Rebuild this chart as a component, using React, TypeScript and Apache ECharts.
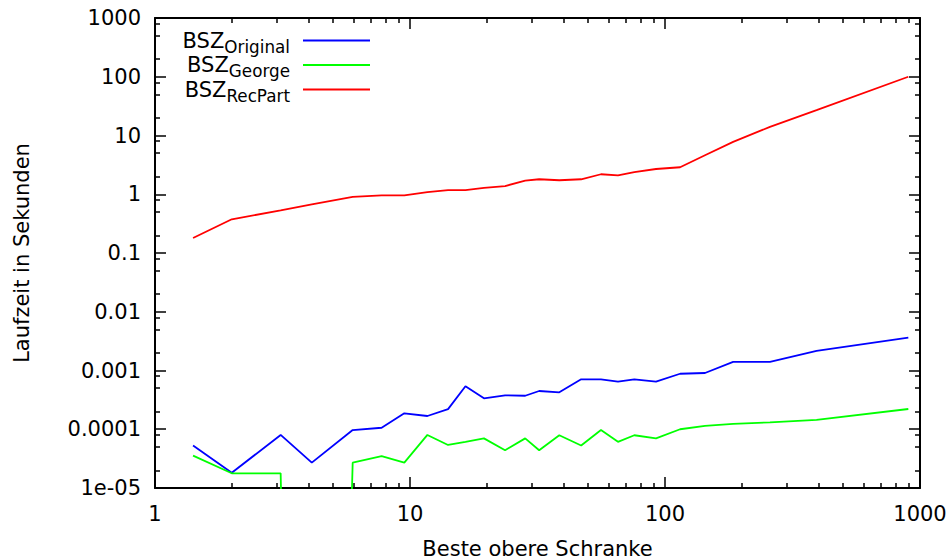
import React, { useEffect, useRef } from 'react';
import * as echarts from 'echarts';

// ---- data ----
const X_VALUES = [1.41, 2, 3.11, 4.12, 5.96, 7.74, 9.5, 11.7, 14.1, 16.5, 19.5, 23.6, 28.3, 32.1, 38.5, 46.9, 56.1, 65.4, 75.8, 92.2, 114.6, 143.5, 185, 258, 393, 900];
const BSZ_ORIGINAL = [5.3e-5, 1.82e-5, 8.0e-5, 2.7e-5, 9.7e-5, 1.06e-4, 1.87e-4, 1.68e-4, 2.2e-4, 5.4e-4, 3.36e-4, 3.78e-4, 3.72e-4, 4.48e-4, 4.25e-4, 7.08e-4, 7.08e-4, 6.45e-4, 7.08e-4, 6.45e-4, 8.8e-4, 9.06e-4, 1.4e-3, 1.4e-3, 2.15e-3, 3.62e-3];
const BSZ_GEORGE = [3.55e-5, 1.78e-5, 1.78e-5, 0, 2.7e-5, 3.5e-5, 2.7e-5, 8.0e-5, 5.4e-5, 6.1e-5, 7.0e-5, 4.4e-5, 7.0e-5, 4.4e-5, 7.9e-5, 5.3e-5, 9.7e-5, 6.1e-5, 7.9e-5, 7.0e-5, 1.0e-4, 1.14e-4, 1.23e-4, 1.31e-4, 1.44e-4, 2.21e-4];
const BSZ_RECPART = [0.18, 0.375, 0.53, 0.67, 0.9, 0.96, 0.955, 1.09, 1.18, 1.18, 1.28, 1.38, 1.7, 1.8, 1.73, 1.8, 2.19, 2.1, 2.39, 2.69, 2.88, 4.6, 7.8, 14, 27, 100];

const SERIES_SUBSCRIPTS = ['Original', 'George', 'RecPart'];
const SERIES_COLORS = ['#0000ff', '#00ff00', '#ff0000'];

const X_TICK_LABELS = ['1', '10', '100', '1000'];
const Y_TICK_LABELS = ['1e-05', '0.0001', '0.001', '0.01', '0.1', '1', '10', '100', '1000'];
const X_MINOR_TICKS = [2, 3, 4, 5, 6, 7, 8, 9, 20, 30, 40, 50, 60, 70, 80, 90, 200, 300, 400, 500, 600, 700, 800, 900];
const Y_MINOR_MULTIPLIERS = [2, 5, 8];
const Y_DECADES = [1e-5, 1e-4, 1e-3, 1e-2, 1e-1, 1, 10, 100];

const FONT = 'DejaVu Sans';
const FLOOR = 1e-30; // a zero value lies below the log axis

export default function App() {
  const ref = useRef<HTMLDivElement>(null);

  useEffect(() => {
    if (!ref.current) return;
    const chart = echarts.init(ref.current, null, { renderer: 'svg' });

    const yMinor: number[] = [];
    Y_DECADES.forEach((d) => Y_MINOR_MULTIPLIERS.forEach((m) => yMinor.push(parseFloat((m * d).toPrecision(6)))));

    const tickLine = { color: '#000', width: 1.5 };
    const axisLineStyle = { color: '#000', width: 2 };
    const labelStyle = { color: '#000', fontSize: 21, fontFamily: FONT };

    const baseX: any = { type: 'log', logBase: 10, min: 1, max: 1000, gridIndex: 0, splitNumber: 3, splitLine: { show: false } };
    const baseY: any = { type: 'log', logBase: 10, min: 1e-5, max: 1000, gridIndex: 0, splitNumber: 8, splitLine: { show: false } };

    const seriesData = [BSZ_ORIGINAL, BSZ_GEORGE, BSZ_RECPART];

    const legendY = [40.5, 65, 89.5];

    const option: any = {
      animation: false,
      backgroundColor: '#ffffff',
      grid: { left: 155, right: 32, top: 18, bottom: 72, containLabel: false, outerBoundsMode: 'none' },
      xAxis: [
        {
          ...baseX,
          position: 'bottom',
          axisLine: { show: true, lineStyle: axisLineStyle },
          axisTick: { show: true, inside: true, length: 11, lineStyle: tickLine },
          axisLabel: {
            show: true,
            margin: 15,
            ...labelStyle,
            formatter: (v: number) => X_TICK_LABELS[Math.round(Math.log10(v))],
          },
          name: 'Beste obere Schranke',
          nameLocation: 'middle',
          nameGap: 50,
          nameTextStyle: { ...labelStyle, lineHeight: 21 },
        },
        {
          ...baseX,
          position: 'bottom',
          axisLine: { show: false },
          axisTick: { show: true, inside: true, length: 5, lineStyle: tickLine, customValues: X_MINOR_TICKS },
          axisLabel: { show: false },
        },
        {
          ...baseX,
          position: 'top',
          axisLine: { show: true, lineStyle: axisLineStyle },
          axisTick: { show: true, inside: true, length: 11, lineStyle: tickLine },
          axisLabel: { show: false },
        },
        {
          ...baseX,
          position: 'top',
          axisLine: { show: false },
          axisTick: { show: true, inside: true, length: 5, lineStyle: tickLine, customValues: X_MINOR_TICKS },
          axisLabel: { show: false },
        },
      ],
      yAxis: [
        {
          ...baseY,
          position: 'left',
          axisLine: { show: true, lineStyle: axisLineStyle },
          axisTick: { show: true, inside: true, length: 11, lineStyle: tickLine },
          axisLabel: {
            show: true,
            margin: 14,
            ...labelStyle,
            formatter: (v: number) => Y_TICK_LABELS[Math.round(Math.log10(v)) + 5],
          },
          name: 'Laufzeit in Sekunden',
          nameLocation: 'middle',
          nameGap: 123,
          nameRotate: 90,
          nameTextStyle: { ...labelStyle },
        },
        {
          ...baseY,
          position: 'left',
          axisLine: { show: false },
          axisTick: { show: true, inside: true, length: 5, lineStyle: tickLine, customValues: yMinor },
          axisLabel: { show: false },
        },
        {
          ...baseY,
          position: 'right',
          axisLine: { show: true, lineStyle: axisLineStyle },
          axisTick: { show: true, inside: true, length: 11, lineStyle: tickLine },
          axisLabel: { show: false },
        },
        {
          ...baseY,
          position: 'right',
          axisLine: { show: false },
          axisTick: { show: true, inside: true, length: 5, lineStyle: tickLine, customValues: yMinor },
          axisLabel: { show: false },
        },
      ],
      series: seriesData.map((vals, i) => ({
        type: 'line',
        name: 'BSZ ' + SERIES_SUBSCRIPTS[i],
        xAxisIndex: 0,
        yAxisIndex: 0,
        data: X_VALUES.map((x, j) => [x, vals[j] > 0 ? vals[j] : FLOOR]),
        symbol: 'none',
        showSymbol: false,
        clip: true,
        silent: true,
        lineStyle: { color: SERIES_COLORS[i], width: 1.8 },
        itemStyle: { color: SERIES_COLORS[i] },
      })),
      graphic: SERIES_SUBSCRIPTS.flatMap((sub, i) => [
        {
          type: 'text',
          x: 290,
          y: legendY[i],
          silent: true,
          style: {
            text: `{b|BSZ}{s|${sub}}`,
            align: 'right',
            verticalAlign: 'middle',
            rich: {
              b: { fontSize: 21, fontFamily: FONT, fill: '#000' },
              s: { fontSize: 16.8, fontFamily: FONT, fill: '#000', padding: [12, 0, 0, 0] },
            },
          },
        },
        {
          type: 'line',
          silent: true,
          shape: { x1: 303, y1: legendY[i], x2: 370, y2: legendY[i] },
          style: { stroke: SERIES_COLORS[i], lineWidth: 2 },
        },
      ]),
    };

    chart.setOption(option);
    return () => chart.dispose();
  }, []);

  return (
    <div
      ref={ref}
      style={{ position: 'absolute', left: 0, top: 0, width: 952, height: 560, background: '#fff' }}
    />
  );
}
